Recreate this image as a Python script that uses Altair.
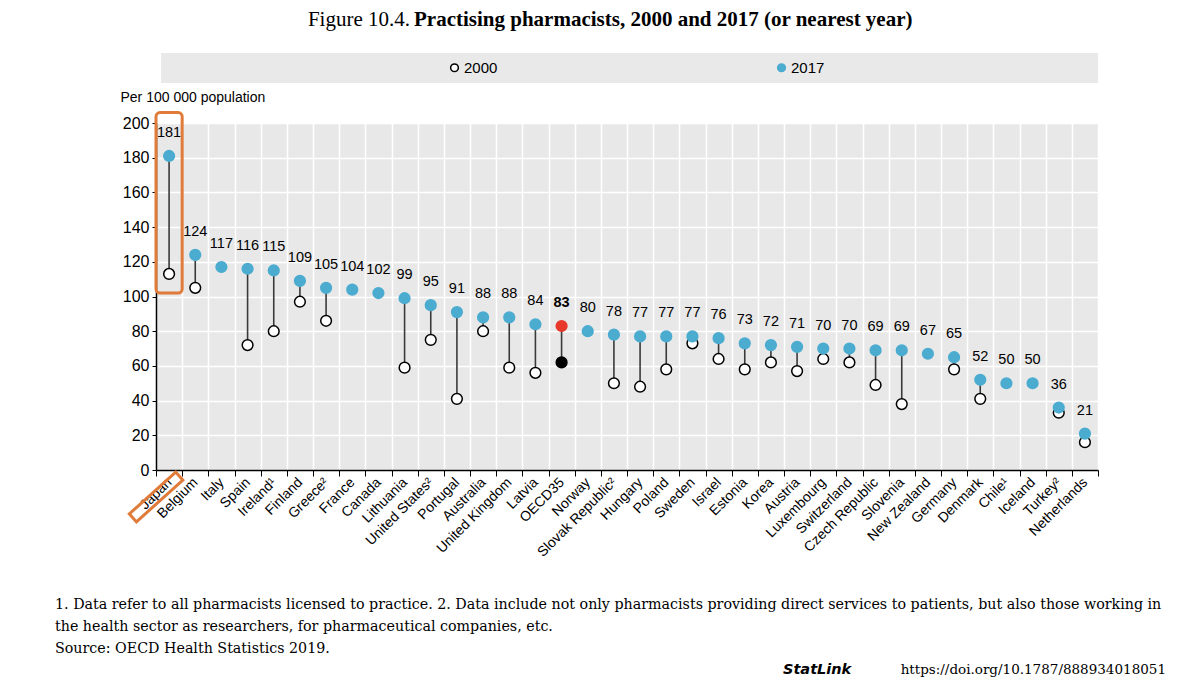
import altair as alt
import pandas as pd

# ---------------- data ----------------
countries = ["Japan", "Belgium", "Italy", "Spain", "Ireland¹", "Finland", "Greece²", "France",
             "Canada", "Lithuania", "United States²", "Portugal", "Australia", "United Kingdom",
             "Latvia", "OECD35", "Norway", "Slovak Republic²", "Hungary", "Poland", "Sweden",
             "Israel", "Estonia", "Korea", "Austria", "Luxembourg", "Switzerland",
             "Czech Republic", "Slovenia", "New Zealand", "Germany", "Denmark", "Chile¹",
             "Iceland", "Turkey²", "Netherlands"]
v2017 = [181, 124, 117, 116, 115, 109, 105, 104, 102, 99, 95, 91, 88, 88, 84, 83, 80, 78, 77,
         77, 77, 76, 73, 72, 71, 70, 70, 69, 69, 67, 65, 52, 50, 50, 36, 21]
v2000 = [113, 105, None, 72, 80, 97, 86, None, None, 59, 75, 41, 80, 59, 56, 62, None, 50, 48,
         58, 73, 64, 58, 62, 57, 64, 62, 49, 38, None, 58, 41, None, None, 33, 16]
oecd_name = "OECD35"
highlight_country = "Japan"
highlight_range = [102, 206]

series_keys = ["2000", "2017", "OECD 2000", "OECD 2017"]
series_fill = ["#ffffff", "#4bacd0", "#000000", "#e8382a"]
series_stroke = ["#000000", "#4bacd0", "#000000", "#e8382a"]
legend_labels = ["2000", "2017"]

title_regular = "Figure 10.4."
title_bold = "Practising pharmacists, 2000 and 2017 (or nearest year)"
y_title = "Per 100 000 population"
notes = [
    "1. Data refer to all pharmacists licensed to practice. 2. Data include not only pharmacists providing direct services to patients, but also those working in",
    "the health sector as researchers, for pharmaceutical companies, etc.",
    "Source: OECD Health Statistics 2019.",
]
statlink_word = "StatLink"
statlink_url = "https://doi.org/10.1787/888934018051"

# ---------------- tables ----------------
wide = pd.DataFrame({"country": countries, "v2000": v2000, "v2017": v2017})
wide["oecd"] = wide["country"] == oecd_name

rows = []
for c, a in zip(countries, v2000):
    if a is not None:
        rows.append({"country": c, "value": a, "key": ("OECD 2000" if c == oecd_name else "2000")})
for c, b in zip(countries, v2017):
    rows.append({"country": c, "value": b, "key": ("OECD 2017" if c == oecd_name else "2017")})
long = pd.DataFrame(rows)
long["order"] = range(len(long))

W, H = 942, 347
SANS = "'Liberation Sans', Arial, sans-serif"
SERIF = "'Liberation Serif', serif"
NOTE_SERIF = "'DejaVu Serif', serif"
ORANGE = "#e07b39"

x_axis = alt.Axis(title=None, labelAngle=315, labelAlign="right", labelBaseline="middle",
                  tickBand="extent", grid=True, gridColor="white", gridWidth=1.5,
                  domainColor="black", domainWidth=1.5, tickColor="black", tickSize=6,
                  labelFont=SANS, labelFontSize=14, labelColor="black", labelPadding=4)
x_scale = alt.Scale(type="band", paddingInner=0, paddingOuter=0, domain=countries)
y_axis = alt.Axis(values=list(range(0, 201, 20)), title=y_title, titleAngle=0,
                  titleAlign="left", titleBaseline="middle", titleX=-36, titleY=-26,
                  titleFont=SANS, titleFontSize=14, titleFontWeight="normal", titleColor="black",
                  grid=True, gridColor="white", gridWidth=1.5, domainColor="black",
                  domainWidth=1.5, tickColor="black", tickSize=4, labelFont=SANS,
                  labelFontSize=16, labelColor="black", labelPadding=3)
y_scale = alt.Scale(domain=[0, 200], nice=False, zero=True)


def X():
    return alt.X("country:N", sort=countries, scale=x_scale, axis=x_axis)


def Y(field):
    return alt.Y(field, scale=y_scale, axis=y_axis)


one = pd.DataFrame({"a": [0]})

legend_box = alt.Chart(one).mark_rect(color="#e9e9e9").encode(
    x=alt.value(5), x2=alt.value(942), y=alt.value(-70), y2=alt.value(-40))

rules = alt.Chart(wide).mark_rule(color="#3a3a3a", strokeWidth=1.6).encode(
    x=X(), y=Y("v2000:Q"), y2="v2017:Q")

legend = alt.Legend(title=None, values=legend_labels, orient="none", legendX=291, legendY=-63,
                    direction="horizontal", columnPadding=276, symbolSize=60,
                    symbolStrokeWidth=1.5, symbolType="circle", labelFont=SANS,
                    labelFontSize=15, labelColor="black", labelOffset=2)

points = alt.Chart(long).mark_point(filled=True, size=115, strokeWidth=1.5, opacity=1).encode(
    x=X(), y=Y("value:Q"),
    fill=alt.Fill("key:N", scale=alt.Scale(domain=series_keys, range=series_fill), legend=legend),
    stroke=alt.Stroke("key:N", scale=alt.Scale(domain=series_keys, range=series_stroke), legend=legend),
    order="order:Q")

labels = alt.Chart(wide).transform_filter("!datum.oecd").mark_text(
    font=SANS, fontSize=14.5, color="black", dy=-19, baseline="alphabetic").encode(
    x=X(), y=Y("v2017:Q"), text="v2017:Q")
labels_bold = alt.Chart(wide).transform_filter("datum.oecd").mark_text(
    font=SANS, fontSize=14.5, fontWeight="bold", color="black", dy=-19, baseline="alphabetic").encode(
    x=X(), y=Y("v2017:Q"), text="v2017:Q")

hl_df = pd.DataFrame({"country": [highlight_country], "lo": [highlight_range[0]], "hi": [highlight_range[1]]})
hl_rect = alt.Chart(hl_df).mark_rect(fill=None, stroke=ORANGE, strokeWidth=3, cornerRadius=4).encode(
    x=X(), y=Y("hi:Q"), y2="lo:Q")
hl_label = alt.Chart(hl_df).mark_point(
    shape="M-1,-0.17L1,-0.17L1,0.17L-1,0.17Z", angle=318, size=3900, filled=False,
    stroke=ORANGE, strokeWidth=3, opacity=1, xOffset=-13, yOffset=27).encode(
    x=X(), y=alt.Y(datum=0, scale=y_scale, axis=y_axis))

t1 = alt.Chart(one).mark_text(text=title_regular, font=SERIF, fontSize=21, align="right",
                              baseline="middle", color="black").encode(
    x=alt.value(254), y=alt.value(-103))
t2 = alt.Chart(one).mark_text(text=title_bold, font=SERIF, fontSize=21, fontWeight="bold",
                              align="left", baseline="middle", color="black").encode(
    x=alt.value(258), y=alt.value(-103))

note_layers = []
for i, n in enumerate(notes):
    note_layers.append(alt.Chart(one).mark_text(text=n, font=NOTE_SERIF, fontSize=14.25, align="left",
                                                baseline="middle", color="black").encode(
        x=alt.value(-101), y=alt.value(482 + 22 * i)))

sl1 = alt.Chart(one).mark_text(text=statlink_word, font="'DejaVu Sans', sans-serif", fontSize=14.5,
                               fontWeight="bold", fontStyle="italic", align="left",
                               baseline="middle", color="black").encode(
    x=alt.value(627), y=alt.value(547))
sl2 = alt.Chart(one).mark_text(text=statlink_url, font=NOTE_SERIF, fontSize=13.5, align="right",
                               baseline="middle", color="black").encode(
    x=alt.value(1010), y=alt.value(547))

chart = alt.layer(legend_box, rules, points, labels, labels_bold, hl_rect, hl_label,
                  t1, t2, *note_layers, sl1, sl2).properties(
    width=W, height=H,
    autosize=alt.AutoSizeParams(type="none"),
    padding={"left": 148, "top": 115, "right": 86, "bottom": 210},
).configure_view(fill="#e8e8e8", stroke=None)

chart.save("out.html", embed_options={"renderer": "svg", "actions": False})
